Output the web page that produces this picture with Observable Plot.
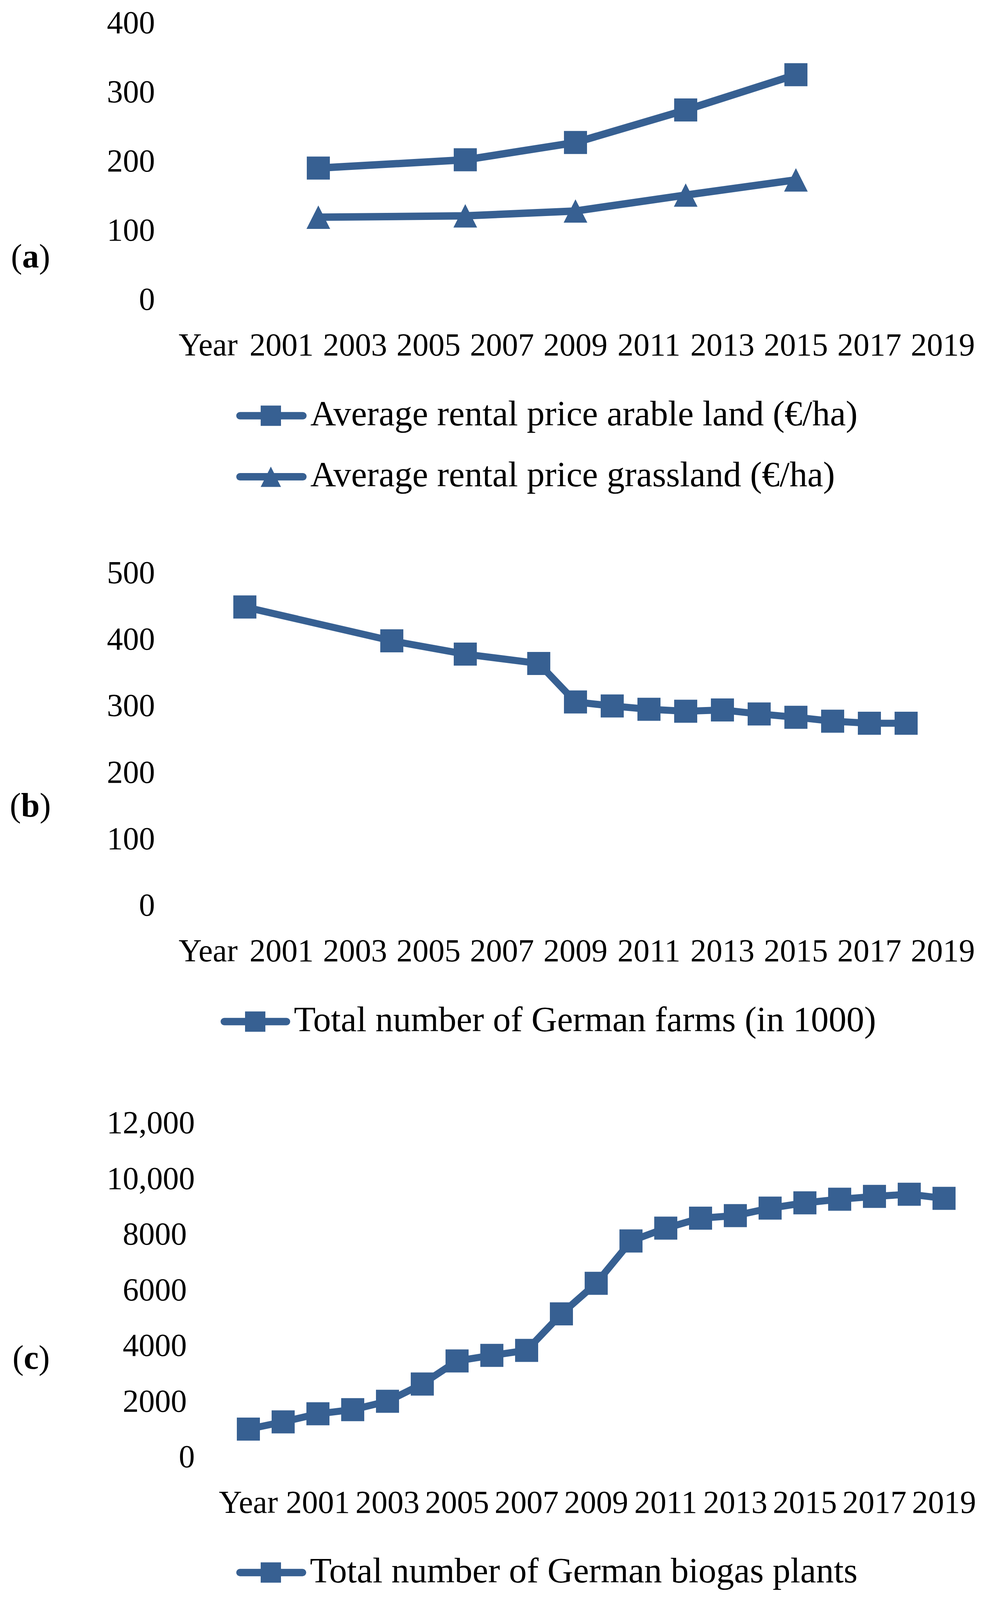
<!DOCTYPE html>
<html>
<head>
<meta charset="utf-8">
<script src="https://cdn.jsdelivr.net/npm/d3@7"></script>
<script src="https://cdn.jsdelivr.net/npm/@observablehq/plot@0.6"></script>
<style>
  html, body { margin: 0; padding: 0; background: #ffffff; overflow: hidden; }
  #root { position: relative; width: 2528px; overflow: hidden; background: #ffffff; font-family: "Liberation Serif", "Times New Roman", serif; }
</style>
</head>
<body>
<div id="root"></div>
<script>
// ---------- data ----------
const categories = ["Year", "2000", "2001", "2002", "2003", "2004", "2005", "2006", "2007", "2008", "2009",
                    "2010", "2011", "2012", "2013", "2014", "2015", "2016", "2017", "2018", "2019"];
const tickLabels = ["Year", "2001", "2003", "2005", "2007", "2009", "2011", "2013", "2015", "2017", "2019"];

// (a) average rental prices (€/ha)
const rentYears = ["2002", "2006", "2009", "2012", "2015"];
const arableRent = [190, 202, 227, 274, 325];
const grassRent = [119, 121, 128, 151, 173];

// (b) total number of German farms (in 1000)
const farmYears = ["2000", "2004", "2006", "2008", "2009", "2010", "2011", "2012", "2013", "2014", "2015", "2016", "2017", "2018"];
const farms = [449, 398, 378, 364, 306, 300, 295, 292, 294, 288, 283, 277, 274, 274];

// (c) total number of German biogas plants
const biogasYears = categories;
const biogas = [1000, 1260, 1550, 1700, 2000, 2620, 3450, 3650, 3830, 5140, 6240, 7760, 8220, 8580, 8670, 8940, 9130, 9260, 9360, 9440, 9290];

const yTicksA = [0, 100, 200, 300, 400];
const yTicksB = [0, 100, 200, 300, 400, 500];
const yTicksC = [0, 2000, 4000, 6000, 8000, 10000, 12000];

const legendA1 = "Average rental price arable land (€/ha)";
const legendA2 = "Average rental price grassland (€/ha)";
const legendB = "Total number of German farms (in 1000)";
const legendC = "Total number of German biogas plants";

// ---------- styling / layout ----------
const BLUE = "#376092";
const FONT = "Liberation Serif";
const TICK_FONT = 82;
const LEGEND_FONT = 91;
const W = 2528;
const REF_H = 4249;
// fit the full figure into the visible viewport height
const SY = Math.min(1, (window.innerHeight || REF_H) / REF_H);
const H = Math.floor(REF_H * SY);
const Y = v => v * SY;

const root = document.getElementById("root");
root.style.height = H + "px";

const triangle = {
  draw(ctx, size) {
    const r = Math.sqrt(size / Math.PI);
    const hw = r * 0.91, hh = r * 0.9;
    ctx.moveTo(0, -hh);
    ctx.lineTo(hw, hh);
    ctx.lineTo(-hw, hh);
    ctx.closePath();
  }
};

const rows = (xs, ys) => xs.map((x, i) => ({x, y: ys[i]}));

function panel({top, height, marginTop, marginBottom, marginLeft, marginRight, yDomain, yTicks, yFormat, lineWidth, series}) {
  const marks = [];
  for (const s of series) {
    marks.push(Plot.line(s.data, {x: "x", y: "y", stroke: BLUE, strokeWidth: lineWidth, strokeLinejoin: "round"}));
  }
  for (const s of series) {
    marks.push(Plot.dot(s.data, {x: "x", y: "y", symbol: s.symbol, r: 33.3, fill: BLUE, stroke: "none"}));
  }
  marks.push(Plot.axisX({ticks: tickLabels, tickSize: 0, tickPadding: Y(120) - 30.5, fontSize: TICK_FONT, fill: "#000"}));
  marks.push(Plot.axisY({ticks: yTicks, tickSize: 0, tickPadding: 134, fontSize: TICK_FONT, tickFormat: yFormat, fill: "#000"}));
  const svg = Plot.plot({
    width: W,
    height: Y(height),
    marginTop: Y(marginTop), marginBottom: Y(marginBottom), marginLeft, marginRight,
    style: {fontFamily: FONT, fontSize: TICK_FONT + "px", background: "#ffffff", color: "#000"},
    x: {type: "point", domain: categories, padding: 0, label: null},
    y: {domain: yDomain, label: null},
    marks
  });
  svg.style.position = "absolute";
  svg.style.top = Y(top) + "px";
  svg.style.left = "0px";
  svg.style.maxWidth = "none";
  return svg;
}

root.appendChild(panel({
  top: 0, height: 1000, marginTop: 60, marginBottom: 205, marginLeft: 530, marginRight: 115,
  yDomain: [0, 400], yTicks: yTicksA, yFormat: d => String(d), lineWidth: 19,
  series: [
    {data: rows(rentYears, arableRent), symbol: "square"},
    {data: rows(rentYears, grassRent), symbol: triangle}
  ]
}));

root.appendChild(panel({
  top: 1400, height: 1200, marginTop: 121, marginBottom: 197, marginLeft: 530, marginRight: 115,
  yDomain: [0, 500], yTicks: yTicksB, yFormat: d => String(d), lineWidth: 18,
  series: [{data: rows(farmYears, farms), symbol: "square"}]
}));

root.appendChild(panel({
  top: 2850, height: 1200, marginTop: 132, marginBottom: 181, marginLeft: 632, marginRight: 111,
  yDomain: [0, 12000], yTicks: yTicksC, lineWidth: 18,
  yFormat: d => d >= 10000 ? d3.format(",")(d) : d === 0 ? "0" : String(d) + "\u2008",
  series: [{data: rows(biogasYears, biogas), symbol: "square"}]
}));

// ---------- legends and panel labels (overlay) ----------
const NS = "http://www.w3.org/2000/svg";
const overlay = document.createElementNS(NS, "svg");
overlay.setAttribute("width", W);
overlay.setAttribute("height", H);
overlay.style.position = "absolute";
overlay.style.top = "0px";
overlay.style.left = "0px";
overlay.style.display = "block";
overlay.style.pointerEvents = "none";
overlay.setAttribute("font-family", FONT);
root.appendChild(overlay);

function el(name, attrs, parent = overlay) {
  const e = document.createElementNS(NS, name);
  for (const k in attrs) e.setAttribute(k, attrs[k]);
  parent.appendChild(e);
  return e;
}

function legendItem(x0, x1, refCy, marker, label) {
  const cy = Y(refCy);
  el("line", {x1: x0 + 9, x2: x1 - 9, y1: cy, y2: cy, stroke: BLUE, "stroke-width": 19, "stroke-linecap": "round"});
  const mx = x0 + 88;
  if (marker === "square") {
    el("rect", {x: mx - 26, y: cy - 26, width: 52, height: 52, fill: BLUE});
  } else {
    el("path", {d: `M${mx},${cy - 26}L${mx + 26},${cy + 26}L${mx - 26},${cy + 26}Z`, fill: BLUE});
  }
  const t = el("text", {x: x1 + 10, y: cy + 25, "font-size": LEGEND_FONT, fill: "#000"});
  t.textContent = label;
}

legendItem(605, 784, 1104, "square", legendA1);
legendItem(605, 784, 1266, "triangle", legendA2);
legendItem(565, 742, 2713, "square", legendB);
legendItem(605, 783, 4176, "square", legendC);

function panelLabel(x, refCenter, letter) {
  const t = el("text", {x, y: Y(refCenter) + 24, "font-size": 86, fill: "#000"});
  const p1 = el("tspan", {}, t); p1.textContent = "(";
  const p2 = el("tspan", {"font-weight": "bold"}, t); p2.textContent = letter;
  const p3 = el("tspan", {}, t); p3.textContent = ")";
}
panelLabel(28, 686, "a");
panelLabel(25, 2143, "b");
panelLabel(32, 3610, "c");
</script>
</body>
</html>
